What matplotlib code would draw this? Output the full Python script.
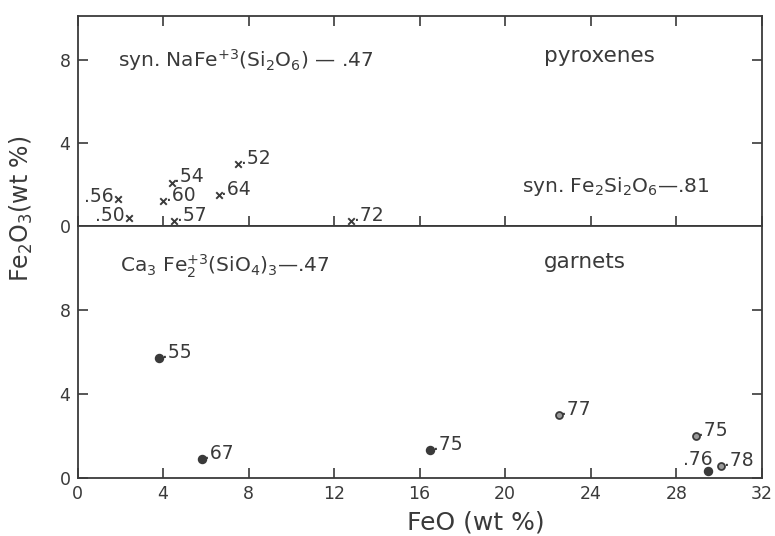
import matplotlib
matplotlib.use("Agg")
import matplotlib.pyplot as plt

plt.rcParams['font.family'] = ['DejaVu Sans']
plt.rcParams['mathtext.default'] = 'regular'

INK = '#3a3a3a'

# pyroxenes (x markers)
pyx_feo = [1.9, 2.4, 4.4, 4.0, 4.5, 6.6, 7.5, 12.8]
pyx_fe2o3 = [1.3, 0.37, 2.1, 1.2, 0.26, 1.5, 3.0, 0.26]
pyx_labels = ['.56', '.50', '.54', '.60', '.57', '.64', '.52', '.72']
pyx_label_side = ['left', 'left', 'right', 'right', 'right', 'right', 'right', 'right']

# garnets (dots)
gar_feo = [3.8, 5.8, 16.5, 22.5, 28.9, 29.5, 30.1]
gar_fe2o3 = [5.7, 0.9, 1.33, 3.0, 2.0, 0.35, 0.57]
gar_labels = ['.55', '.67', '.75', '.77', '.75', '.76', '.78']
gar_open = [False, False, False, True, True, False, True]

x_ticks = [0, 4, 8, 12, 16, 20, 24, 28, 32]
y_ticks = [0, 4, 8]

LBL = 13.5

fig = plt.figure(figsize=(7.75, 5.36), dpi=100)
ax_top = fig.add_axes([0.1, 0.578, 0.883, 0.392])
ax_bot = fig.add_axes([0.1, 0.108, 0.883, 0.470], sharex=ax_top)

for ax in (ax_top, ax_bot):
    for s in ax.spines.values():
        s.set_color(INK)
        s.set_linewidth(1.3)
    ax.set_xlim(0, 32)
    ax.set_xticks(x_ticks)
    ax.set_yticks(y_ticks)
    ax.tick_params(direction='in', length=7, width=1.2, color=INK,
                   labelcolor=INK, labelsize=12.5, right=True, pad=5)

ax_top.set_ylim(0, 10.1)
ax_bot.set_ylim(0, 12)
ax_top.tick_params(top=True, labelbottom=False)
ax_bot.set_xticklabels([str(v) for v in x_ticks])

# pyroxenes
ax_top.scatter(pyx_feo, pyx_fe2o3, marker='x', s=22, color=INK, linewidths=1.4, zorder=3)
for x, y, lab, side in zip(pyx_feo, pyx_fe2o3, pyx_labels, pyx_label_side):
    if side == 'left':
        ax_top.annotate(lab, (x, y), xytext=(-3, 2), textcoords='offset points',
                        ha='right', va='center', fontsize=LBL, color=INK)
    else:
        ax_top.annotate(lab, (x, y), xytext=(2, 4), textcoords='offset points',
                        ha='left', va='center', fontsize=LBL, color=INK)

# garnets
for x, y, lab, op in zip(gar_feo, gar_fe2o3, gar_labels, gar_open):
    ax_bot.plot(x, y, 'o', ms=5.5 if not op else 5, mfc='#9a9a9a' if op else INK,
                mec=INK, mew=1.3, zorder=3)
    if lab == '.76':
        ax_bot.annotate(lab, (x, y), xytext=(3, 8), textcoords='offset points',
                        ha='right', va='center', fontsize=LBL, color=INK)
    else:
        ax_bot.annotate(lab, (x, y), xytext=(2, 4), textcoords='offset points',
                        ha='left', va='center', fontsize=LBL, color=INK)

# panel annotations
ax_top.text(1.9, 8.0, 'syn. NaFe$^{+3}$(Si$_2$O$_6$) — .47', fontsize=14.5,
            color=INK, va='center')
ax_top.text(21.8, 8.2, 'pyroxenes', fontsize=15.5, color=INK, va='center')
ax_top.text(20.8, 1.9, 'syn. Fe$_2$Si$_2$O$_6$—.81', fontsize=14.5,
            color=INK, va='center')
ax_bot.text(2.0, 10.1, 'Ca$_3$ Fe$_2^{+3}$(SiO$_4$)$_3$—.47', fontsize=14.5,
            color=INK, va='center')
ax_bot.text(21.8, 10.3, 'garnets', fontsize=15.5, color=INK, va='center')

fig.text(0.614, 0.026, 'FeO (wt %)', ha='center', va='center', fontsize=18, color=INK)
fig.text(0.028, 0.61, 'Fe$_2$O$_3$(wt %)', ha='center', va='center',
         rotation=90, fontsize=17, color=INK)

fig.savefig('out.png', dpi=100)
